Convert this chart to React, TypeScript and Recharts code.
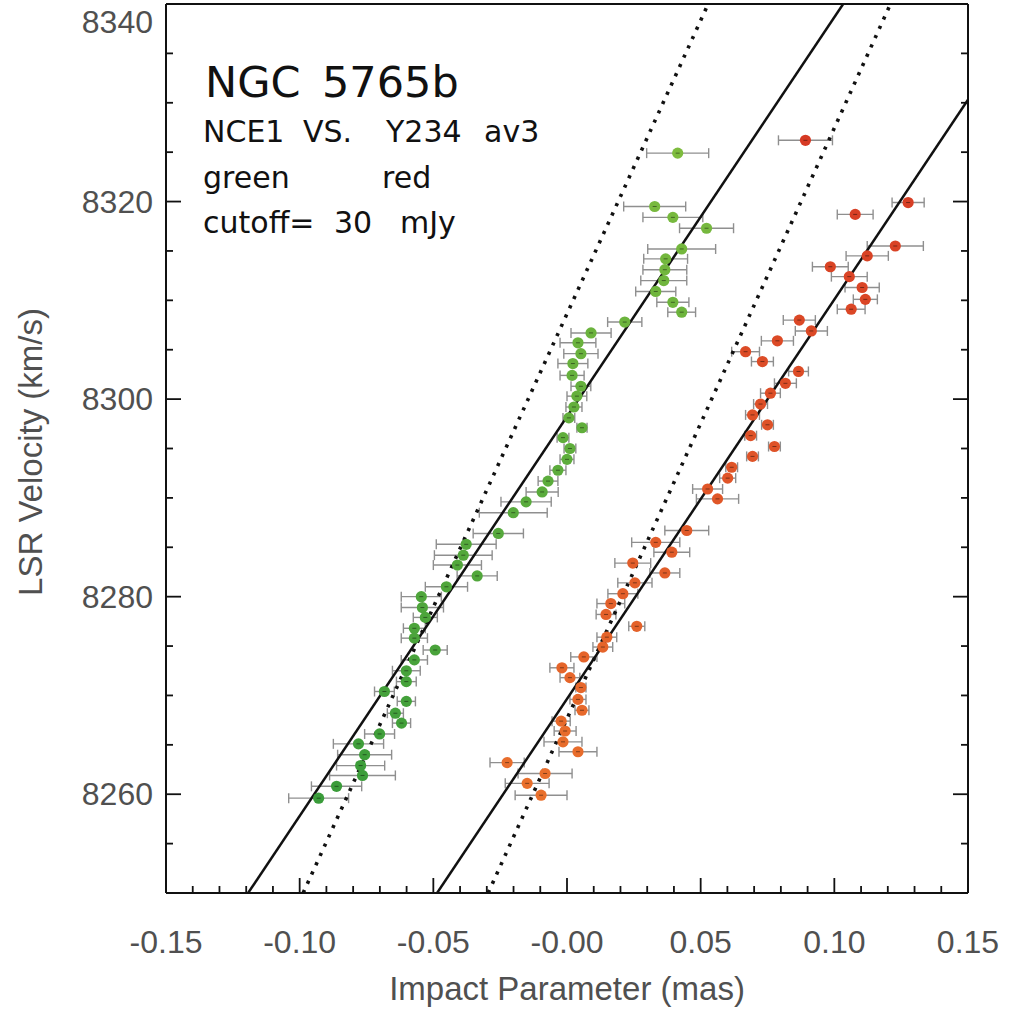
import {
  ScatterChart,
  Scatter,
  XAxis,
  YAxis,
  ErrorBar,
  Label,
} from "recharts";

// velocities (km/s), impact parameters (mas) and x errors (mas)
const greenVel = [
  8259.6, 8260.8, 8261.9, 8262.9, 8264.0, 8265.1, 8266.1, 8267.2, 8268.2, 8269.4,
  8270.4, 8271.4, 8272.5, 8273.6, 8274.6, 8275.8, 8276.8, 8277.9, 8278.9, 8280.0,
  8281.0, 8282.1, 8283.2, 8284.2, 8285.3, 8286.4, 8288.5, 8289.6, 8290.6, 8291.7,
  8292.8, 8293.9, 8295.0, 8296.1, 8297.1, 8298.1, 8299.2, 8300.3, 8301.3, 8302.4,
  8303.6, 8304.6, 8305.7, 8306.7, 8307.8, 8308.8, 8309.8, 8310.9, 8312.0, 8313.1,
  8314.2, 8315.2, 8317.3, 8318.4, 8319.5, 8324.9,
];
const greenPos = [
  -0.0929, -0.0862, -0.0765, -0.0772, -0.0757, -0.078, -0.0701, -0.0619, -0.0642, -0.0601,
  -0.0683, -0.0601, -0.0601, -0.0571, -0.0493, -0.0571, -0.0571, -0.053, -0.0541, -0.0545,
  -0.0451, -0.0336, -0.041, -0.0388, -0.0377, -0.0257, -0.0201, -0.0153, -0.0093, -0.0071,
  -0.0034, 0.0, 0.0011, -0.0015, 0.0056, 0.0007, 0.0026, 0.0037, 0.0052, 0.0019,
  0.0022, 0.0052, 0.0041, 0.009, 0.0216, 0.0429, 0.0396, 0.0332, 0.0362, 0.0366,
  0.0369, 0.0429, 0.0522, 0.0396, 0.0328, 0.0414,
];
const greenErr = [
  0.0112, 0.0094, 0.0123, 0.009, 0.0101, 0.0094, 0.0056, 0.0034, 0.003, 0.0034,
  0.0037, 0.0037, 0.0052, 0.0049, 0.0045, 0.0049, 0.0041, 0.0045, 0.0079, 0.0075,
  0.0079, 0.0075, 0.009, 0.0108, 0.0112, 0.0094, 0.0127, 0.0094, 0.006, 0.0037,
  0.003, 0.0026, 0.0022, 0.0022, 0.0019, 0.0022, 0.003, 0.0037, 0.0037, 0.0045,
  0.0056, 0.0064, 0.0067, 0.0075, 0.0064, 0.0052, 0.006, 0.0075, 0.0086, 0.0082,
  0.0082, 0.0127, 0.0101, 0.0112, 0.0116, 0.0116,
];

const redVel = [
  8259.9, 8261.1, 8262.1, 8263.2, 8264.3, 8265.3, 8266.4, 8267.4, 8268.5, 8269.6,
  8270.8, 8271.8, 8272.8, 8273.9, 8274.9, 8275.9, 8277.0, 8278.2, 8279.3, 8280.3,
  8281.4, 8282.4, 8283.4, 8284.5, 8285.5, 8286.7, 8289.9, 8290.9, 8292.0, 8293.1,
  8294.2, 8295.2, 8296.3, 8297.4, 8298.4, 8299.5, 8300.6, 8301.6, 8302.8, 8303.8,
  8304.8, 8305.9, 8306.9, 8308.0, 8309.1, 8310.1, 8311.3, 8312.4, 8313.4, 8314.5,
  8315.5, 8318.7, 8319.9, 8326.2,
];
const redPos = [
  -0.0097, -0.0149, -0.0082, -0.0224, 0.0041, -0.0015, -0.0007, -0.0022, 0.0056, 0.0041,
  0.0052, 0.0011, -0.0019, 0.0063, 0.0134, 0.0149, 0.0261, 0.0146, 0.0164, 0.0209,
  0.0254, 0.0366, 0.0246, 0.0392, 0.0332, 0.0448, 0.0563, 0.0526, 0.0601, 0.0616,
  0.0694, 0.0776, 0.0687, 0.075, 0.0694, 0.0724, 0.0761, 0.0817, 0.0866, 0.0731,
  0.0668, 0.0787, 0.0914, 0.0869, 0.1063, 0.1116, 0.1104, 0.1056, 0.0985, 0.1123,
  0.1228, 0.1078, 0.1276, 0.0892,
];
const redErr = [
  0.0097, 0.0082, 0.0101, 0.0064, 0.0071, 0.0071, 0.0041, 0.0034, 0.0026, 0.003,
  0.0019, 0.0037, 0.0045, 0.0049, 0.0037, 0.0037, 0.003, 0.0037, 0.0052, 0.0056,
  0.0064, 0.0056, 0.0067, 0.0067, 0.009, 0.0082, 0.0079, 0.0056, 0.003, 0.0022,
  0.0022, 0.0022, 0.0022, 0.0022, 0.0026, 0.0026, 0.0037, 0.0041, 0.0037, 0.0041,
  0.0052, 0.006, 0.006, 0.006, 0.0052, 0.0045, 0.0064, 0.0067, 0.0067, 0.0079,
  0.0105, 0.0067, 0.006, 0.0101,
];

// fitted lines (end points)
const greenFit = [
  { x: -0.1193, y: 8250 },
  { x: 0.1033, y: 8340 },
];
const greenFitDotted = [
  { x: -0.0987, y: 8250 },
  { x: 0.0528, y: 8340 },
];
const redFit = [
  { x: -0.0486, y: 8250 },
  { x: 0.15, y: 8330.3 },
];
const redFitDotted = [
  { x: -0.0295, y: 8250 },
  { x: 0.121, y: 8340 },
];

const xMajor = [-0.15, -0.1, -0.05, 0, 0.05, 0.1, 0.15];
const xTickLabels = ["-0.15", "-0.10", "-0.05", "-0.00", "0.05", "0.10", "0.15"];
const yMajor = [8260, 8280, 8300, 8320, 8340];
const yTickLabels = ["8260", "8280", "8300", "8320", "8340"];

const xTicks = Array.from({ length: 31 }, (_, i) => Math.round((-0.15 + i * 0.01) * 100) / 100);
const yTicks = Array.from({ length: 19 }, (_, i) => 8250 + i * 5);

const greenData = greenVel.map((y, i) => ({ x: greenPos[i], y, xe: greenErr[i] }));
const redData = redVel.map((y, i) => ({ x: redPos[i], y, xe: redErr[i] }));

const TICK_FONT = "'Liberation Sans', Arial, Helvetica, sans-serif";
const NOTE_FONT = "'DejaVu Sans', sans-serif";

function mix(a: number[], b: number[], t: number) {
  const c = a.map((v, i) => Math.round(v + (b[i] - v) * t));
  return `rgb(${c[0]},${c[1]},${c[2]})`;
}

function ramp(v: number, lo: number[], hi: number[]) {
  const t = Math.min(1, Math.max(0, (v - 8260) / (8325 - 8260)));
  return mix(lo, hi, t);
}

const makeDot = (lo: number[], hi: number[]) => (props: any) => {
  const { cx, cy, payload } = props;
  if (cx == null || cy == null) return <g />;
  return (
    <g>
      <circle cx={cx} cy={cy} r={5.6} fill={ramp(payload.y, lo, hi)} />
      <line x1={cx - 2} x2={cx + 2} y1={cy} y2={cy} stroke="rgba(0,0,0,0.45)" strokeWidth={1} />
    </g>
  );
};

const greenDot = makeDot([58, 156, 58], [126, 188, 62]);
const redDot = makeDot([233, 112, 44], [214, 58, 36]);

const isMajor = (list: number[], v: number) => list.findIndex((m) => Math.abs(m - v) < 1e-6);

const BottomTick = (props: any) => {
  const { x, y, payload } = props;
  const idx = isMajor(xMajor, payload.value);
  return (
    <g>
      <line x1={x} x2={x} y1={y} y2={y - (idx >= 0 ? 15 : 7)} stroke="#111" strokeWidth={1.8} />
      {idx >= 0 && (
        <text x={x} y={y + 60} textAnchor="middle" fontFamily={TICK_FONT} fontSize={32} fill="#505050">
          {xTickLabels[idx]}
        </text>
      )}
    </g>
  );
};

const TopTick = (props: any) => {
  const { x, y, payload } = props;
  const idx = isMajor(xMajor, payload.value);
  return <line x1={x} x2={x} y1={y} y2={y + (idx >= 0 ? 15 : 7)} stroke="#111" strokeWidth={1.8} />;
};

const LeftTick = (props: any) => {
  const { x, y, payload } = props;
  const idx = isMajor(yMajor, payload.value);
  return (
    <g>
      <line x1={x} x2={x + (idx >= 0 ? 15 : 7)} y1={y} y2={y} stroke="#111" strokeWidth={1.8} />
      {idx >= 0 && (
        <text
          x={x - 13}
          y={Math.max(y, 22) + 11}
          textAnchor="end"
          fontFamily={TICK_FONT}
          fontSize={32}
          fill="#505050"
        >
          {yTickLabels[idx]}
        </text>
      )}
    </g>
  );
};

const RightTick = (props: any) => {
  const { x, y, payload } = props;
  const idx = isMajor(yMajor, payload.value);
  return <line x1={x} x2={x - (idx >= 0 ? 15 : 7)} y1={y} y2={y} stroke="#111" strokeWidth={1.8} />;
};

const noShape = () => <g />;

// annotation words: text, left x, baseline y, font size
const notes = [
  { t: "NGC", x: 205, y: 97, s: 43 },
  { t: "5765b", x: 322, y: 97, s: 43 },
  { t: "NCE1", x: 203, y: 142, s: 30 },
  { t: "VS.", x: 303, y: 142, s: 30 },
  { t: "Y234", x: 386, y: 142, s: 30 },
  { t: "av3", x: 484, y: 142, s: 30 },
  { t: "green", x: 203, y: 188, s: 30 },
  { t: "red", x: 382, y: 188, s: 30 },
  { t: "cutoff=", x: 203, y: 233, s: 30 },
  { t: "30", x: 334, y: 233, s: 30 },
  { t: "mJy", x: 400, y: 233, s: 30 },
];

export default function App() {
  return (
    <div style={{ position: "absolute", left: 0, top: 0, width: 1023, height: 1011, background: "#fff" }}>
      <ScatterChart width={1023} height={1011} margin={{ top: 3, right: 54, bottom: 0, left: 0 }}>
        <XAxis
          xAxisId="b"
          dataKey="x"
          type="number"
          domain={[-0.15, 0.15]}
          allowDataOverflow
          ticks={xTicks}
          interval={0}
          height={118}
          tickSize={0}
          tickMargin={0}
          tickLine={false}
          axisLine={{ stroke: "#111", strokeWidth: 2 }}
          tick={<BottomTick />}
        >
          <Label
            content={({ viewBox }: any) => (
              <text
                x={viewBox.x + viewBox.width / 2}
                y={1000}
                textAnchor="middle"
                fontFamily={TICK_FONT}
                fontSize={33}
                fill="#505050"
              >
                Impact Parameter (mas)
              </text>
            )}
          />
        </XAxis>
        <XAxis
          xAxisId="t"
          orientation="top"
          type="number"
          domain={[-0.15, 0.15]}
          allowDataOverflow
          ticks={xTicks}
          interval={0}
          height={1}
          tickSize={0}
          tickMargin={0}
          tickLine={false}
          axisLine={{ stroke: "#111", strokeWidth: 2 }}
          tick={<TopTick />}
        />
        <YAxis
          yAxisId="l"
          dataKey="y"
          type="number"
          domain={[8250, 8340]}
          allowDataOverflow
          ticks={yTicks}
          interval={0}
          width={166}
          tickSize={0}
          tickMargin={0}
          tickLine={false}
          axisLine={{ stroke: "#111", strokeWidth: 2 }}
          tick={<LeftTick />}
        >
          <Label
            content={() => (
              <text
                x={42}
                y={452}
                transform="rotate(-90 42 452)"
                textAnchor="middle"
                fontFamily={TICK_FONT}
                fontSize={33}
                fill="#505050"
              >
                LSR Velocity (km/s)
              </text>
            )}
          />
        </YAxis>
        <YAxis
          yAxisId="r"
          orientation="right"
          type="number"
          domain={[8250, 8340]}
          allowDataOverflow
          ticks={yTicks}
          interval={0}
          width={1}
          tickSize={0}
          tickMargin={0}
          tickLine={false}
          axisLine={{ stroke: "#111", strokeWidth: 2 }}
          tick={<RightTick />}
        />

        <Scatter
          xAxisId="b"
          yAxisId="l"
          data={greenFit}
          line={{ stroke: "#111", strokeWidth: 2.5 }}
          shape={noShape}
          isAnimationActive={false}
        />
        <Scatter
          xAxisId="b"
          yAxisId="l"
          data={greenFitDotted}
          line={{ stroke: "#111", strokeWidth: 3.6, strokeDasharray: "3.2 7" }}
          shape={noShape}
          isAnimationActive={false}
        />
        <Scatter
          xAxisId="b"
          yAxisId="l"
          data={redFit}
          line={{ stroke: "#111", strokeWidth: 2.5 }}
          shape={noShape}
          isAnimationActive={false}
        />
        <Scatter
          xAxisId="b"
          yAxisId="l"
          data={redFitDotted}
          line={{ stroke: "#111", strokeWidth: 3.6, strokeDasharray: "3.2 7" }}
          shape={noShape}
          isAnimationActive={false}
        />

        <Scatter xAxisId="b" yAxisId="l" data={greenData} shape={greenDot} isAnimationActive={false}>
          <ErrorBar dataKey="xe" direction="x" width={5} stroke="#8f8f8f" strokeWidth={1.4} />
        </Scatter>
        <Scatter xAxisId="b" yAxisId="l" data={redData} shape={redDot} isAnimationActive={false}>
          <ErrorBar dataKey="xe" direction="x" width={5} stroke="#8f8f8f" strokeWidth={1.4} />
        </Scatter>
      </ScatterChart>

      <svg
        width={1023}
        height={1011}
        style={{ position: "absolute", left: 0, top: 0, pointerEvents: "none" }}
      >
        {notes.map((n) => (
          <text key={n.t} x={n.x} y={n.y} fontFamily={NOTE_FONT} fontSize={n.s} fill="#111">
            {n.t}
          </text>
        ))}
      </svg>
    </div>
  );
}
